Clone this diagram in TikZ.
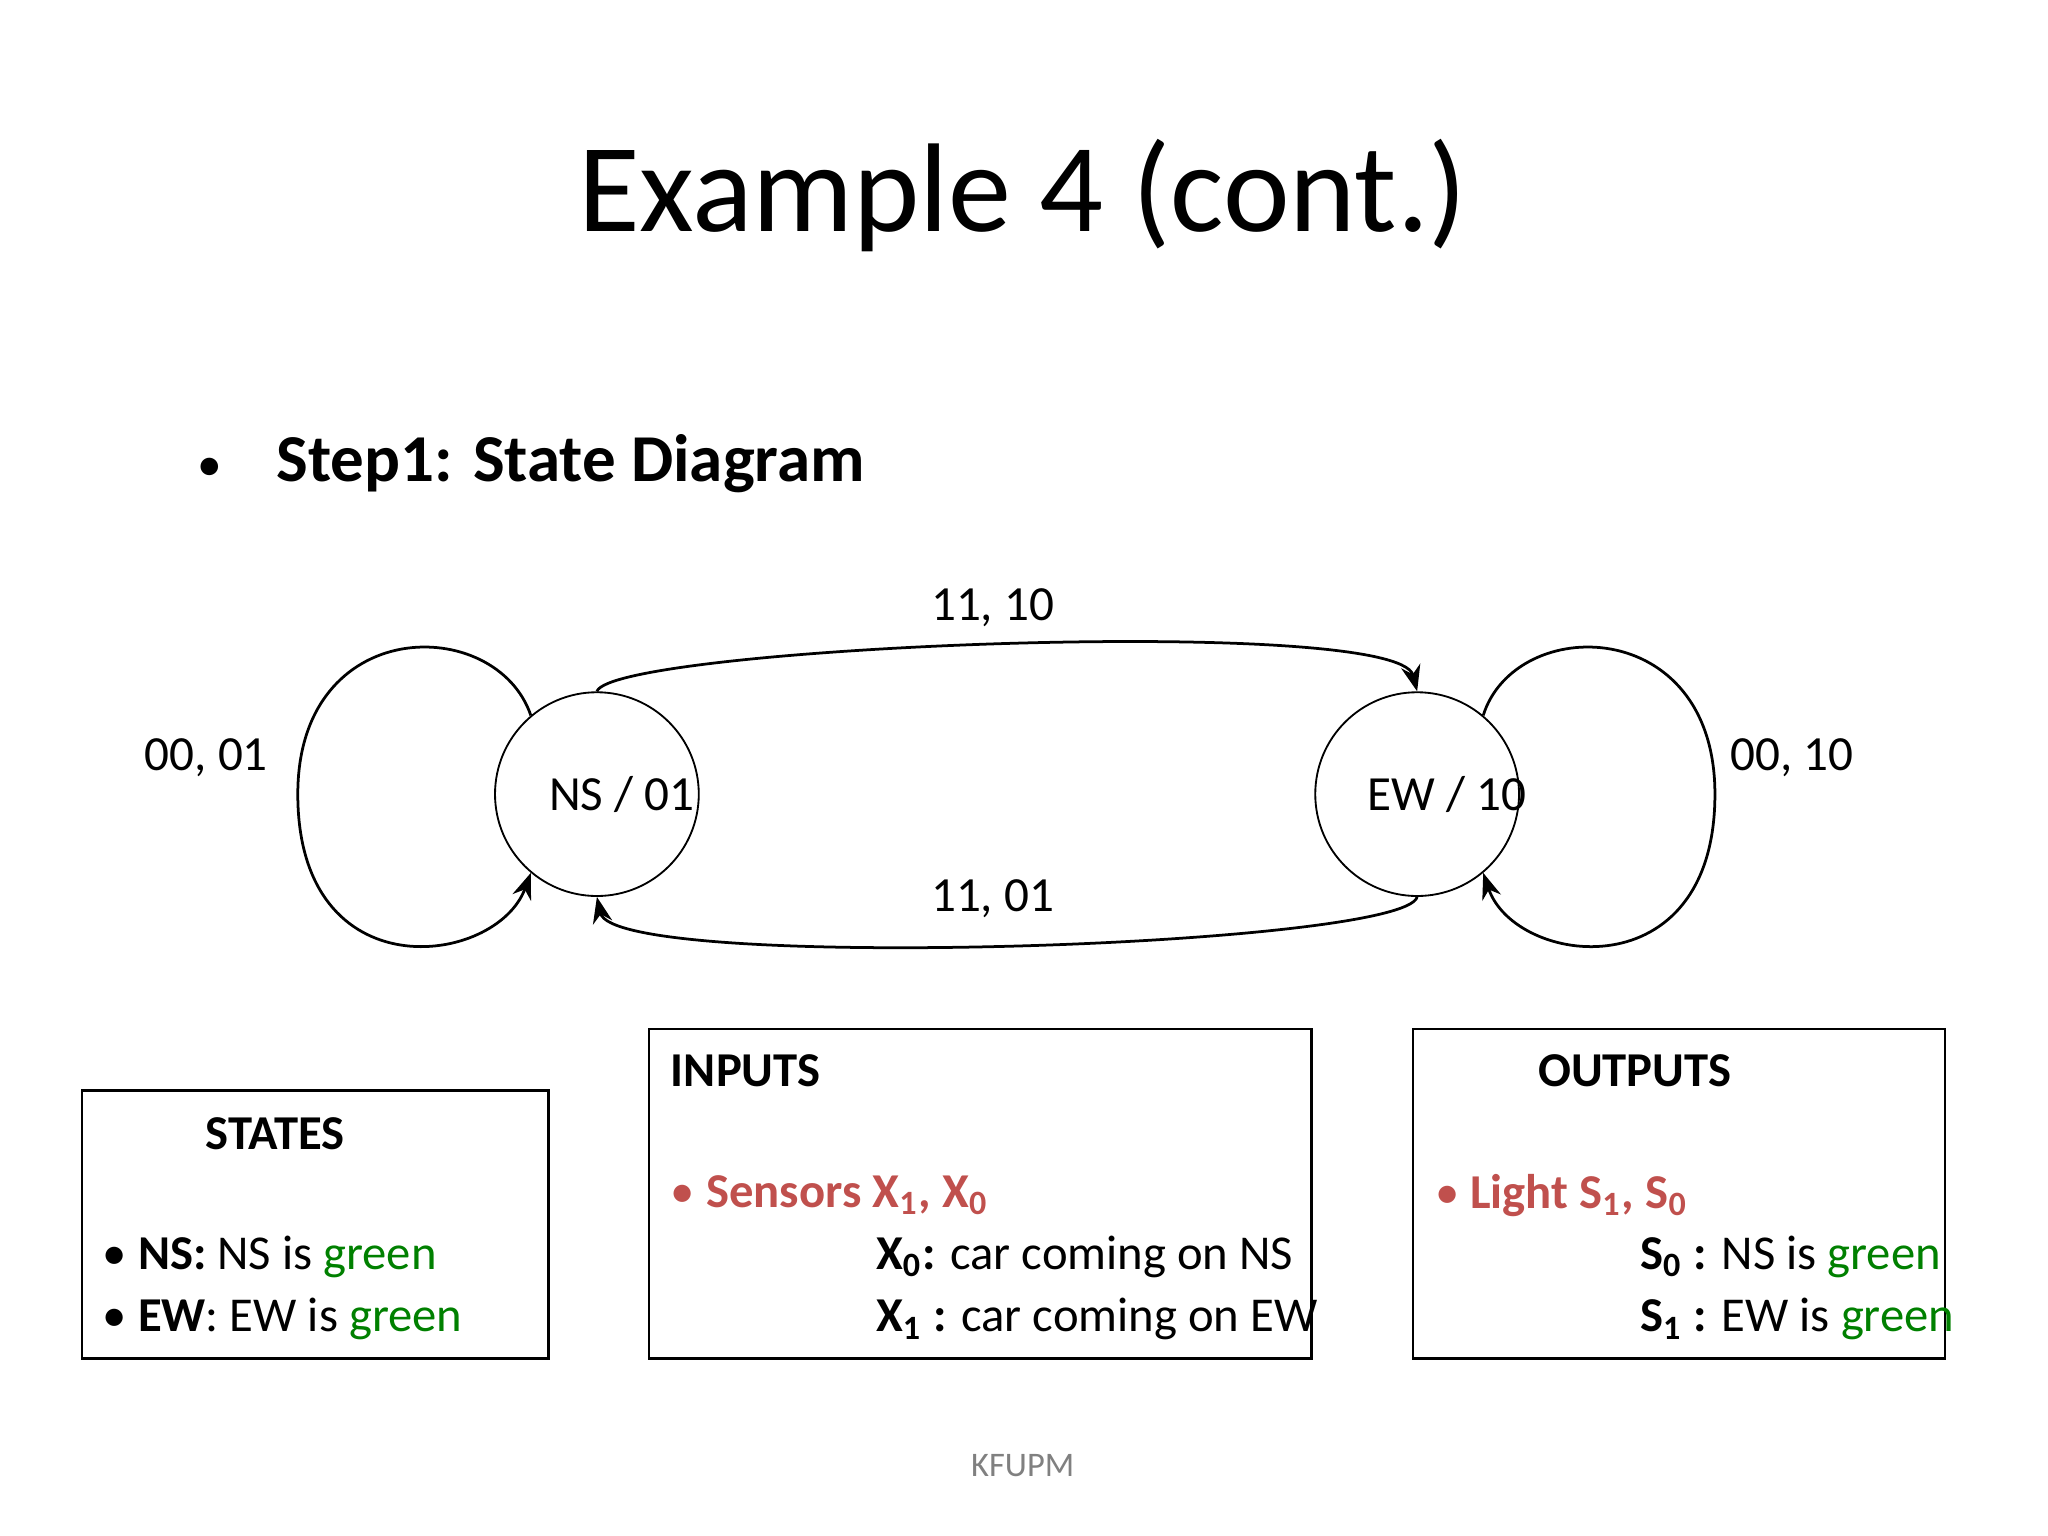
\documentclass[tikz,border=0pt]{standalone}
\usepackage{fontspec}
\setmainfont{Carlito}
\usetikzlibrary{arrows.meta,positioning}
\definecolor{sensred}{RGB}{192,80,77}
\definecolor{okgreen}{RGB}{0,128,0}
\tikzset{
  stateNode/.style={draw, circle, minimum size=156*0.1mm, inner sep=0pt},
  labelNode/.style={font=\fontsize{10.7}{13}\selectfont},
  infoBox/.style={draw, line width=0.5pt},
  boxText/.style={anchor=west, font=\fontsize{10.6}{12}\selectfont, inner sep=0pt},
  trans/.style={-{Stealth[length=2mm]}, line width=0.6pt}
}
\newcommand{\grn}[1]{\textcolor{okgreen}{#1}}
\begin{document}
\begin{tikzpicture}[x=0.1mm,y=-0.1mm]
\useasboundingbox (0,0) rectangle (1568,1176);
% title and heading
\node (title) at (783,150) {\fontsize{27.5}{30}\selectfont Example 4 (cont.)};
\node[anchor=west] (step) at (140,355) {\fontsize{14.6}{18}\selectfont\textbf{\raisebox{0.1ex}{\small\textbullet}\hspace{0.85em}Step1: State Diagram}};
% states
\node[stateNode] (ns) at (457,608) {};
\node[stateNode] (ew) at (1085,608) {};
\node[labelNode] (nsTag) at (476,608) {NS / 01};
\node[labelNode] (ewTag) at (1108,608) {EW / 10};
% transitions
\draw[trans] (ns.north) .. controls (470,495) and (1070,470) .. (ew.north);
\draw[trans] (ew.south) .. controls (1075,725) and (470,745) .. (ns.south);
\draw[trans] (ns.130) .. controls (380,470) and (228,470) .. (228,608)
  .. controls (228,760) and (380,740) .. (ns.230);
\draw[trans] (ew.50) .. controls (1160,470) and (1313,470) .. (1313,608)
  .. controls (1313,760) and (1160,740) .. (ew.310);
\node[labelNode] (top) at (760,465) {11, 10};
\node[labelNode] (bot) at (760,688) {11, 01};
\node[labelNode] (nsloop) at (158,580) {00, 01};
\node[labelNode] (ewloop) at (1372,580) {00, 10};
% legend boxes
\draw[infoBox] (63,835) rectangle (420,1040);
\draw[infoBox] (497,788) rectangle (1004,1040);
\draw[infoBox] (1082,788) rectangle (1489,1040);
\node[boxText] (statesHd) at (157,868) {\textbf{STATES}};
\node[boxText] (nsTxt) at (78,962) {\textbullet\ \textbf{NS:} NS is \grn{green}};
\node[boxText] (ewTxt) at (78,1010) {\textbullet\ \textbf{EW}: EW is \grn{green}};
\node[boxText] (inHd) at (513,820) {\textbf{INPUTS}};
\node[boxText,text=sensred] (sens) at (513,915) {\textbullet\ \textbf{Sensors X\textsubscript{1}, X\textsubscript{0}}};
\node[boxText] (x0) at (670,962) {\textbf{X\textsubscript{0}:} car coming on NS};
\node[boxText] (x1) at (670,1010) {\textbf{X\textsubscript{1} :} car coming on EW};
\node[boxText] (outHd) at (1177,820) {\textbf{OUTPUTS}};
\node[boxText,text=sensred] (light) at (1098,915) {\textbullet\ \textbf{Light S\textsubscript{1}, S\textsubscript{0}}};
\node[boxText] (s0) at (1255,962) {\textbf{S\textsubscript{0} :} NS is \grn{green}};
\node[boxText] (s1) at (1255,1010) {\textbf{S\textsubscript{1} :} EW is \grn{green}};
\node[text=gray, font=\fontsize{7.5}{9}\selectfont] (foot) at (783,1122) {KFUPM};
\end{tikzpicture}
\end{document}
